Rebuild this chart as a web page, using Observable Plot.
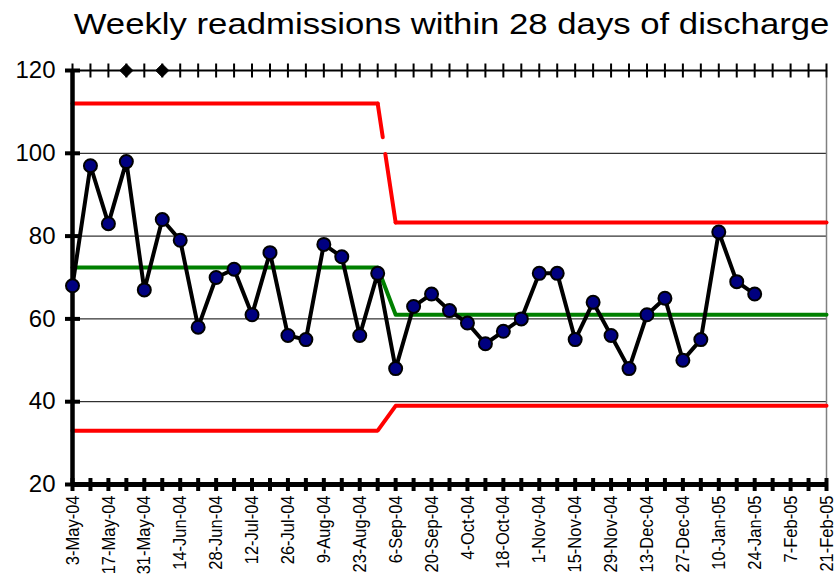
<!DOCTYPE html>
<html><head><meta charset="utf-8">
<script src="https://cdn.jsdelivr.net/npm/d3@7"></script>
<script src="https://cdn.jsdelivr.net/npm/@observablehq/plot@0.6"></script>
<style>
body{margin:0;background:#fff;overflow:hidden;font-family:"Liberation Sans",Arial,sans-serif;}
#title{box-sizing:border-box;width:834px;height:43px;padding:4px 0 0 70px;line-height:39px;text-align:center;font-size:30px;color:#000;white-space:nowrap;}
#title span{display:inline-block;transform:scaleX(1.157);}
</style></head><body>
<div id="title"><span>Weekly readmissions within 28 days of discharge</span></div>
<div id="chart"></div>
<script>
// Weekly readmission counts, starting with the week of 3-May-04
const readmissions = [68,97,83,98,67,84,79,58,70,72,61,76,56,55,78,75,56,71,48,63,66,62,59,54,57,60,71,71,55,64,56,48,61,65,50,55,81,69,66];
// Control-chart phases (week index where each phase begins)
const phaseStartWeek = [0, 18];
const upperLimit = [112, 83.3];
const centreLine = [72.4, 61];
const lowerLimit = [33, 39];
// Weeks flagged with a signal marker on the top border
const signalWeeks = [3, 5];
const yTicks = [20, 40, 60, 80, 100, 120];
const gridValues = [40, 60, 80, 100];
const tickLabels = ["3-May-04","17-May-04","31-May-04","14-Jun-04","28-Jun-04","12-Jul-04","26-Jul-04","9-Aug-04","23-Aug-04","6-Sep-04","20-Sep-04","4-Oct-04","18-Oct-04","1-Nov-04","15-Nov-04","29-Nov-04","13-Dec-04","27-Dec-04","10-Jan-05","24-Jan-05","7-Feb-05","21-Feb-05"];

const parse = d3.utcParse("%d-%b-%y");
const tickDates = tickLabels.map(parse);
const labelByTime = new Map(tickDates.map((d, i) => [+d, tickLabels[i]]));
const firstWeek = tickDates[0];
const lastWeek = tickDates[tickDates.length - 1];
const weeks = d3.utcMonday.range(firstWeek, d3.utcDay.offset(lastWeek, 1));

const phaseOf = i => (i >= phaseStartWeek[1] ? 1 : 0);
const limitRows = weeks.map((d, i) => {
  const p = phaseOf(i);
  return {date: d, phase: p, ucl: upperLimit[p], cl: centreLine[p], lcl: lowerLimit[p]};
});
const transition = limitRows.slice(phaseStartWeek[1] - 1, phaseStartWeek[1] + 1);
const series = readmissions.map((v, i) => ({date: weeks[i], value: v}));
const signals = signalWeeks.map(i => ({date: weeks[i], value: yTicks[yTicks.length - 1]}));
const topTicks = weeks.map(d => ({date: d, value: yTicks[yTicks.length - 1]}));
const bottomTicks = weeks.map(d => ({date: d, value: yTicks[0]}));
const leftTicks = yTicks.map(v => ({date: firstWeek, value: v}));

const vTick = {draw(ctx, size) { const r = Math.sqrt(size / Math.PI); ctx.moveTo(0, -r); ctx.lineTo(0, r); }};
const hTick = {draw(ctx, size) { const r = Math.sqrt(size / Math.PI); ctx.moveTo(-r, 0); ctx.lineTo(r, 0); }};

const chart = Plot.plot({
  width: 834,
  height: 533,
  marginLeft: 72,
  marginRight: 8,
  marginTop: 27,
  marginBottom: 92,
  style: {fontFamily: "'Liberation Sans', Arial, sans-serif", background: "white", color: "black", overflow: "visible"},
  x: {type: "utc", domain: [firstWeek, lastWeek], label: null},
  y: {domain: [yTicks[0], yTicks[yTicks.length - 1]], label: null},
  marks: [
    Plot.ruleY(gridValues, {stroke: "black", strokeWidth: 1}),
    Plot.ruleX([lastWeek], {stroke: "#808080", strokeWidth: 1.5}),
    // control limits
    Plot.line(limitRows, {x: "date", y: "lcl", stroke: "#ff0000", strokeWidth: 4}),
    Plot.line(limitRows, {x: "date", y: "ucl", z: "phase", stroke: "#ff0000", strokeWidth: 4}),
    Plot.line(transition, {x: "date", y: "ucl", stroke: "#ff0000", strokeWidth: 4, strokeDasharray: "34,17,300"}),
    Plot.line(limitRows, {x: "date", y: "cl", stroke: "#008000", strokeWidth: 4}),
    // top border with weekly ticks and signal markers
    Plot.ruleY([yTicks[yTicks.length - 1]], {stroke: "black", strokeWidth: 2}),
    Plot.dot(topTicks, {x: "date", y: "value", symbol: vTick, r: 7, fill: "none", stroke: "black", strokeWidth: 2}),
    Plot.dot(signals, {x: "date", y: "value", symbol: "diamond2", r: 5.9, fill: "black", stroke: "black", strokeWidth: 1}),
    // bottom axis line with weekly ticks
    Plot.ruleY([yTicks[0]], {stroke: "black", strokeWidth: 5}),
    Plot.dot(bottomTicks, {x: "date", y: "value", symbol: vTick, r: 6.5, fill: "none", stroke: "black", strokeWidth: 4}),
    // left axis line with ticks
    Plot.ruleX([firstWeek], {stroke: "black", strokeWidth: 4.5}),
    Plot.dot(leftTicks, {x: "date", y: "value", symbol: hTick, r: 7.5, fill: "none", stroke: "black", strokeWidth: 4}),
    // data
    Plot.line(series, {x: "date", y: "value", stroke: "black", strokeWidth: 4, strokeLinejoin: "round"}),
    Plot.dot(series, {x: "date", y: "value", r: 6.5, fill: "#000080", stroke: "black", strokeWidth: 2}),
    // axes
    Plot.axisY({ticks: yTicks, tickSize: 0, tickPadding: 17, fontSize: 24, label: null}),
    Plot.axisX({ticks: tickDates, tickFormat: d => labelByTime.get(+d), tickRotate: -90, tickSize: 0, tickPadding: 11, textAnchor: "end", lineAnchor: "middle", fontSize: 16.5, label: null})
  ]
});
// the source chart's rotated date labels are stretched across the glyph height
chart.querySelectorAll("g[aria-label='x-axis tick label'] text").forEach(t => {
  const tr = t.getAttribute("transform") || "";
  t.setAttribute("transform", tr + " scale(1,1.16)");
});
document.getElementById("chart").appendChild(chart);
</script>
</body></html>
